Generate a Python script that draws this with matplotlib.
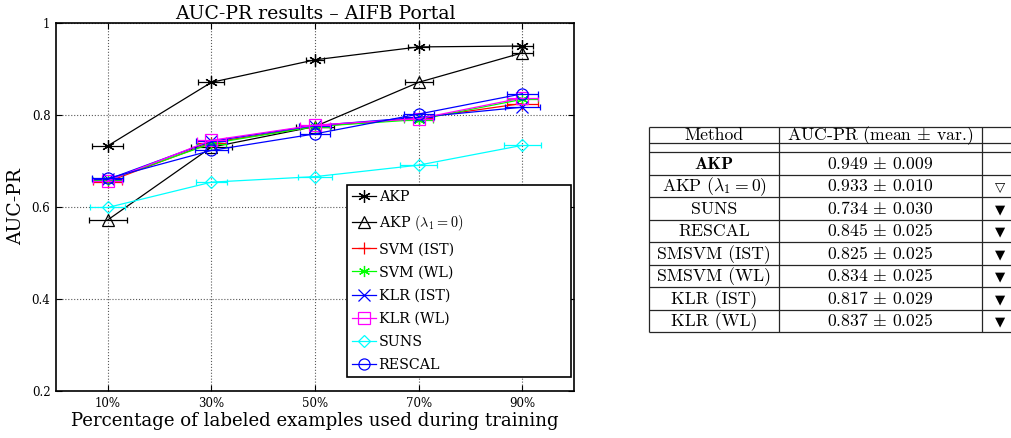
import matplotlib
matplotlib.use("Agg")
import matplotlib.pyplot as plt

W, H = 1011, 438
plt.rcParams['mathtext.fontset'] = 'cm'
plt.rcParams['font.family'] = ['DejaVu Serif', 'DejaVu Sans']

# ---------------- data ----------------
train_pct = [10, 30, 50, 70, 90]
xtick_labels = ['10%', '30%', '50%', '70%', '90%']
yticks = [0.2, 0.4, 0.6, 0.8, 1.0]
ytick_labels = ['0.2', '0.4', '0.6', '0.8', '1']

series_names = ["AKP", r"AKP $(\lambda_1 = 0)$", "SVM (IST)", "SVM (WL)",
                "KLR (IST)", "KLR (WL)", "SUNS", "RESCAL"]
akp = [0.733, 0.871, 0.920, 0.948, 0.950]
akp_l0 = [0.572, 0.730, 0.775, 0.871, 0.935]
svm_ist = [0.655, 0.740, 0.775, 0.793, 0.825]
svm_wl = [0.658, 0.738, 0.775, 0.790, 0.834]
klr_ist = [0.660, 0.743, 0.777, 0.795, 0.817]
klr_wl = [0.657, 0.745, 0.778, 0.792, 0.837]
suns = [0.599, 0.654, 0.666, 0.691, 0.734]
rescal = [0.662, 0.723, 0.759, 0.802, 0.846]

# horizontal error-bar half widths (in % points)
akp_err = [3.0, 2.5, 1.7, 2.0, 2.0]
akp_l0_err = [3.7, 3.9, 3.7, 2.7, 2.0]
svm_ist_err = [2.8, 2.8, 2.8, 2.8, 3.0]
svm_wl_err = [2.8, 2.8, 2.8, 2.8, 3.0]
klr_ist_err = [3.0, 3.0, 3.0, 3.0, 3.4]
klr_wl_err = [2.8, 2.8, 2.8, 2.8, 3.0]
suns_err = [3.4, 3.0, 3.2, 3.6, 3.6]
rescal_err = [3.0, 3.2, 2.9, 2.9, 3.0]

# table
table_header = ["Method", r"AUC-PR (mean $\pm$ var.)", ""]
table_methods = ["AKP", r"AKP $(\lambda_1 = 0)$", "SUNS", "RESCAL",
                 "SMSVM (IST)", "SMSVM (WL)", "KLR (IST)", "KLR (WL)"]
table_means = [0.949, 0.933, 0.734, 0.845, 0.825, 0.834, 0.817, 0.837]
table_vars = [0.009, 0.010, 0.030, 0.025, 0.025, 0.025, 0.029, 0.025]
table_signif = ["", "\u25BD", "\u25BC", "\u25BC", "\u25BC", "\u25BC", "\u25BC", "\u25BC"]

# ---------------- styles ----------------
series_values = [akp, akp_l0, svm_ist, svm_wl, klr_ist, klr_wl, suns, rescal]
series_errs = [akp_err, akp_l0_err, svm_ist_err, svm_wl_err,
               klr_ist_err, klr_wl_err, suns_err, rescal_err]
colors = ['k', 'k', '#ff0000', '#00ff00', '#0000ff', '#ff00ff', '#00ffff', '#0000ff']
markers = [(6, 2, 0), '^', '+', (6, 2, 0), 'x', 's', 'D', 'o']
msizes = [9, 8, 9, 8, 8, 8, 6.5, 8]

fig = plt.figure(figsize=(W / 100, H / 100), dpi=100)
ax = fig.add_axes([56 / W, 1 - 391 / H, (574 - 56) / W, (391 - 23) / H])

lines = []
for name, vals, errs, c, m, ms in zip(series_names, series_values, series_errs,
                                      colors, markers, msizes):
    ax.errorbar(train_pct, vals, xerr=errs, fmt='none', ecolor=c,
                elinewidth=0.9, capsize=2, capthick=0.9)
    ln, = ax.plot(train_pct, vals, color=c, marker=m, markersize=ms,
                  markerfacecolor='none', markeredgecolor=c,
                  markeredgewidth=0.9, linewidth=0.9, label=name)
    lines.append(ln)

ax.set_xlim(0, 100)
ax.set_ylim(0.2, 1.0)
ax.set_xticks(train_pct)
ax.set_xticklabels(xtick_labels)
ax.set_yticks(yticks)
ax.set_yticklabels(ytick_labels)
ax.grid(True, linestyle=':', color='0.35', linewidth=0.8)
ax.tick_params(direction='in', length=4, top=True, right=True,
               labelsize=8.5, pad=4)
for s in ax.spines.values():
    s.set_linewidth(1.2)

ax.set_title("AUC-PR results \u2013 AIFB Portal", fontsize=13.6, pad=3)
ax.set_xlabel("Percentage of labeled examples used during training",
              fontsize=13.1, labelpad=2)
ax.set_ylabel("AUC-PR", fontsize=13.5, labelpad=5)

leg = ax.legend(handles=lines, loc='lower left',
                bbox_to_anchor=(0.562, 0.038, 0.432, 0.552), mode='expand',
                fontsize=10.3, labelspacing=0.64, handlelength=1.7,
                handletextpad=0.15, borderpad=0.35, borderaxespad=0,
                fancybox=False, framealpha=1, edgecolor='k')
leg.get_frame().set_linewidth(1.2)

# ---------------- table ----------------
tab = fig.add_axes([0, 0, 1, 1])
tab.set_xlim(0, W)
tab.set_ylim(H, 0)
tab.axis('off')

col_edges = [649, 779, 982, 1018]
top = 127
head_bot = 143
head_bot2 = 152
row_h = 22.5
n = len(table_methods)
bottom = head_bot2 + n * row_h
lc = '0.15'
lw = 0.9

for xe in col_edges:
    tab.plot([xe, xe], [top, bottom], color=lc, lw=lw, solid_capstyle='butt')
for ye in [top, head_bot, head_bot2] + [head_bot2 + (i + 1) * row_h for i in range(n)]:
    tab.plot([col_edges[0], col_edges[-1]], [ye, ye], color=lc, lw=lw,
             solid_capstyle='butt')

col_cent = [(col_edges[i] + col_edges[i + 1]) / 2 for i in range(3)]
fs = 12.7
hb = (top + head_bot) / 2 + 5.5
for j, t in enumerate(table_header):
    tab.text(col_cent[j], hb, t, ha='center', va='baseline', fontsize=fs,
             family='cmr10')
for i in range(n):
    yb = head_bot2 + (i + 0.5) * row_h + 5.5
    if i == 0:
        tab.text(col_cent[0], yb, table_methods[i], ha='center', va='baseline',
                 fontsize=fs, family='cmb10')
        val = r"$\mathbf{%.3f}\,\pm\,\mathbf{%.3f}$" % (table_means[i], table_vars[i])
    else:
        tab.text(col_cent[0], yb, table_methods[i], ha='center', va='baseline',
                 fontsize=fs, family='cmr10')
        val = r"$%.3f\,\pm\,%.3f$" % (table_means[i], table_vars[i])
    tab.text(col_cent[1], yb, val, ha='center', va='baseline', fontsize=fs,
             family='cmr10')
    if table_signif[i]:
        tab.text(col_cent[2], yb - 0.5, table_signif[i], ha='center',
                 va='baseline', fontsize=9.5, family='DejaVu Sans')

fig.savefig("out.png", dpi=100)
